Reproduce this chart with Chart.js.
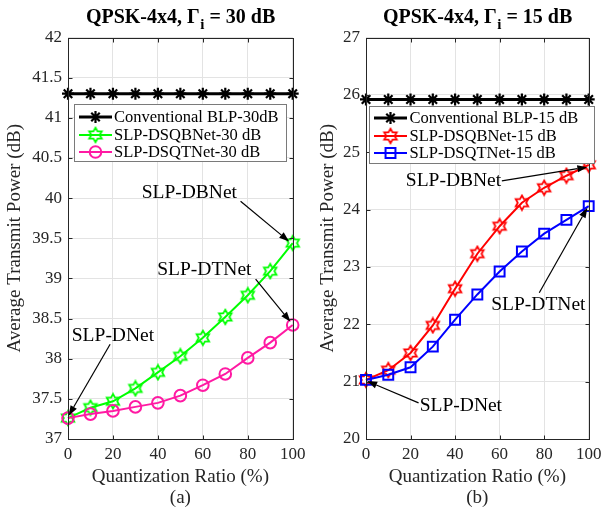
<!DOCTYPE html>
<html><head><meta charset="utf-8">
<script src="https://cdn.jsdelivr.net/npm/chart.js@4/dist/chart.umd.min.js"></script>
<style>
html,body{margin:0;padding:0;background:#fff;}
#wrap{position:relative;width:602px;height:509px;overflow:hidden;background:#fff;}
canvas{position:absolute;top:0;}
#c1{left:0;} #c2{left:313px;}
</style></head><body>
<div id="wrap"><canvas id="c1" width="312" height="509"></canvas><canvas id="c2" width="289" height="509"></canvas></div>
<script>
// ---------- data ----------
const ratio = [0, 10, 20, 30, 40, 50, 60, 70, 80, 90, 100];
const xTickVals = [0, 20, 40, 60, 80, 100];

// panel (a): Gamma_i = 30 dB
const blp30  = [41.3, 41.3, 41.3, 41.3, 41.3, 41.3, 41.3, 41.3, 41.3, 41.3, 41.3];
const dsqb30 = [37.26, 37.39, 37.47, 37.63, 37.83, 38.03, 38.26, 38.52, 38.79, 39.09, 39.44];
const dsqt30 = [37.26, 37.31, 37.35, 37.40, 37.45, 37.54, 37.67, 37.81, 38.01, 38.20, 38.42];
const yTicks30 = [37, 37.5, 38, 38.5, 39, 39.5, 40, 40.5, 41, 41.5, 42];

// panel (b): Gamma_i = 15 dB
const blp15  = [25.92, 25.92, 25.92, 25.92, 25.92, 25.92, 25.92, 25.92, 25.92, 25.92, 25.92];
const dsqb15 = [21.03, 21.20, 21.50, 21.98, 22.62, 23.23, 23.71, 24.12, 24.38, 24.59, 24.78];
const dsqt15 = [21.03, 21.12, 21.25, 21.61, 22.08, 22.52, 22.92, 23.27, 23.58, 23.82, 24.06];
const yTicks15 = [20, 21, 22, 23, 24, 25, 26, 27];

const FONT = '"Liberation Serif","Times New Roman",serif';
const AXC = '#262626';

function hexagram(color) {
  const s = 18, c = document.createElement('canvas');
  c.width = s; c.height = s;
  const g = c.getContext('2d'), R = 7.2, r = R / Math.sqrt(3);
  g.beginPath();
  for (let k = 0; k < 12; k++) {
    const a = -Math.PI / 2 + k * Math.PI / 6, rr = k % 2 === 0 ? R : r;
    const px = s / 2 + rr * Math.cos(a), py = s / 2 + rr * Math.sin(a);
    if (k) g.lineTo(px, py); else g.moveTo(px, py);
  }
  g.closePath(); g.strokeStyle = color; g.lineWidth = 1.8; g.stroke();
  return c;
}
const hexGreen = hexagram('#00ff00');
const hexRed = hexagram('#ff0000');

function marker(ctx, style, x, y, color, r, lw) {
  ctx.save();
  if (style instanceof HTMLCanvasElement) {
    ctx.drawImage(style, x - style.width / 2, y - style.height / 2);
    ctx.restore(); return;
  }
  ctx.strokeStyle = color; ctx.lineWidth = lw; ctx.beginPath();
  if (style === 'star') {
    for (let k = 0; k < 4; k++) {
      const a = k * Math.PI / 4, dx = r * Math.cos(a), dy = r * Math.sin(a);
      ctx.moveTo(x - dx, y - dy); ctx.lineTo(x + dx, y + dy);
    }
  } else if (style === 'circle') {
    ctx.arc(x, y, r, 0, Math.PI * 2);
  } else if (style === 'rect') {
    const s = r * Math.SQRT1_2; ctx.rect(x - s, y - s, 2 * s, 2 * s);
  }
  ctx.stroke(); ctx.restore();
}

const decor = {
  id: 'decor',
  afterDraw(chart, args, o) {
    const ctx = chart.ctx, a = chart.chartArea, xs = chart.scales.x, ys = chart.scales.y;
    ctx.save();
    // box + inward ticks
    ctx.strokeStyle = AXC; ctx.lineWidth = 1;
    const L = Math.round(a.left) + 0.5, R = Math.round(a.right) + 0.5, T = Math.round(a.top) + 0.5, B = Math.round(a.bottom) + 0.5;
    ctx.strokeRect(L, T, R - L, B - T);
    ctx.beginPath();
    o.xTicks.forEach(v => { const p = Math.round(xs.getPixelForValue(v)) + 0.5;
      ctx.moveTo(p, B); ctx.lineTo(p, B - 4); ctx.moveTo(p, T); ctx.lineTo(p, T + 4); });
    o.yTicks.forEach(v => { const p = Math.round(ys.getPixelForValue(v)) + 0.5;
      ctx.moveTo(L, p); ctx.lineTo(L + 4, p); ctx.moveTo(R, p); ctx.lineTo(R - 4, p); });
    ctx.stroke();

    // legend
    const lg = o.legend;
    ctx.fillStyle = '#fff'; ctx.fillRect(lg.x, lg.y, lg.w, lg.h);
    ctx.strokeStyle = '#7a7a7a'; ctx.lineWidth = 1;
    ctx.strokeRect(Math.round(lg.x) + 0.5, Math.round(lg.y) + 0.5, Math.round(lg.w), Math.round(lg.h));
    chart.data.datasets.forEach((ds, i) => {
      const y = lg.rows[i];
      ctx.strokeStyle = ds.borderColor; ctx.lineWidth = ds.borderWidth;
      ctx.beginPath(); ctx.moveTo(lg.l1, y); ctx.lineTo(lg.l2, y); ctx.stroke();
      marker(ctx, ds.pointStyle, (lg.l1 + lg.l2) / 2, y, ds.borderColor, ds.pointRadius, ds.pointBorderWidth);
      ctx.fillStyle = '#000'; ctx.font = '16.5px ' + FONT; ctx.textBaseline = 'middle'; ctx.textAlign = 'left';
      ctx.fillText(ds.label, lg.tx, y + 1);
    });

    // annotations
    ctx.strokeStyle = '#000'; ctx.fillStyle = '#000'; ctx.lineWidth = 1.2;
    o.notes.forEach(n => {
      const x0 = xs.getPixelForValue(n.from[0]), y0 = ys.getPixelForValue(n.from[1]);
      const x1 = xs.getPixelForValue(n.to[0]), y1 = ys.getPixelForValue(n.to[1]);
      const ang = Math.atan2(y1 - y0, x1 - x0), hl = 10, hw = 3.6;
      const bx = x1 - hl * Math.cos(ang), by = y1 - hl * Math.sin(ang);
      ctx.beginPath(); ctx.moveTo(x0, y0); ctx.lineTo(bx, by); ctx.stroke();
      ctx.beginPath(); ctx.moveTo(x1, y1);
      ctx.lineTo(bx + hw * Math.sin(ang), by - hw * Math.cos(ang));
      ctx.lineTo(bx - hw * Math.sin(ang), by + hw * Math.cos(ang));
      ctx.closePath(); ctx.fill();
      ctx.font = '19.5px ' + FONT; ctx.textAlign = 'center'; ctx.textBaseline = 'middle';
      ctx.fillText(n.text, xs.getPixelForValue(n.tx), ys.getPixelForValue(n.ty));
    });

    // title with subscript
    const cx = (a.left + a.right) / 2, mainF = 'bold 20px ' + FONT, subF = 'bold 15px ' + FONT;
    ctx.font = mainF; const w1 = ctx.measureText(o.title[0]).width, w3 = ctx.measureText(o.title[2]).width;
    ctx.font = subF; const w2 = ctx.measureText(o.title[1]).width;
    let sx = cx - (w1 + w2 + w3) / 2;
    ctx.fillStyle = '#000'; ctx.textAlign = 'left'; ctx.textBaseline = 'alphabetic';
    ctx.font = mainF; ctx.fillText(o.title[0], sx, 23);
    ctx.font = subF; ctx.fillText(o.title[1], sx + w1 + 0.5, 29);
    ctx.font = mainF; ctx.fillText(o.title[2], sx + w1 + w2 + 0.5, 23);

    // panel label
    ctx.font = '19px ' + FONT; ctx.textAlign = 'center'; ctx.textBaseline = 'middle'; ctx.fillStyle = AXC;
    ctx.fillText(o.panel, cx, 498);
    ctx.restore();
  }
};

function makePanel(id, p) {
  const mk = (arr) => ratio.map((x, i) => ({ x, y: arr[i] }));
  new Chart(document.getElementById(id), {
    type: 'line',
    data: { datasets: [
      { label: p.names[0], data: mk(p.s[0]), borderColor: '#000', borderWidth: 3, pointStyle: 'star',
        pointRadius: 6, pointBorderWidth: 2.2, pointBorderColor: '#000', order: 3 },
      { label: p.names[1], data: mk(p.s[1]), borderColor: p.c1, borderWidth: 2, pointStyle: p.m1,
        pointRadius: p.r1, pointBorderWidth: 2, pointBorderColor: p.c1, order: 2 },
      { label: p.names[2], data: mk(p.s[2]), borderColor: p.c2, borderWidth: 2, pointStyle: p.m2,
        pointRadius: p.r2, pointBorderWidth: 2, pointBorderColor: p.c2, order: 1 }
    ]},
    options: {
      responsive: false, animation: false, events: [],
      layout: { padding: { left: 0, right: p.padR, top: 37.5, bottom: 17 } },
      datasets: { line: { tension: 0, clip: false, pointBackgroundColor: 'rgba(0,0,0,0)', fill: false } },
      plugins: { legend: { display: false }, tooltip: { enabled: false }, title: { display: false },
        decor: { xTicks: xTickVals, yTicks: p.yTicks, legend: p.legend, notes: p.notes, title: p.title, panel: p.panel } },
      scales: {
        x: { type: 'linear', min: 0, max: 100,
          afterBuildTicks: s => { s.ticks = xTickVals.map(v => ({ value: v })); },
          afterFit: s => { s.height = 53; s.paddingLeft = 0; s.paddingRight = 0; },
          ticks: { font: { family: FONT, size: 17 }, color: AXC, padding: 5, maxRotation: 0, callback: v => String(v) },
          grid: { color: '#e3e3e3', drawTicks: false }, border: { display: false },
          title: { display: true, text: 'Quantization Ratio (%)', font: { family: FONT, size: 19 }, color: AXC } },
        y: { type: 'linear', min: p.yTicks[0], max: p.yTicks[p.yTicks.length - 1],
          afterBuildTicks: s => { s.ticks = p.yTicks.map(v => ({ value: v })); },
          afterFit: s => { s.width = p.yw; },
          ticks: { font: { family: FONT, size: 17 }, color: AXC, padding: 6, callback: v => String(v) },
          grid: { color: '#e3e3e3', drawTicks: false }, border: { display: false },
          title: { display: true, text: 'Average Transmit Power (dB)', font: { family: FONT, size: 19 }, color: AXC } }
      }
    },
    plugins: [decor]
  });
}

makePanel('c1', {
  s: [blp30, dsqb30, dsqt30], names: ['Conventional BLP-30dB', 'SLP-DSQBNet-30 dB', 'SLP-DSQTNet-30 dB'],
  c1: '#00ff00', m1: hexGreen, r1: 7, c2: '#ff1aa3', m2: 'circle', r2: 5.8,
  yTicks: yTicks30, yw: 68, padR: 19.3,
  legend: { x: 74, y: 104, w: 212, h: 57, rows: [117, 135, 152], l1: 79, l2: 112, tx: 114 },
  notes: [
    { text: 'SLP-DBNet', tx: 54, ty: 40.06, from: [76.8, 39.96], to: [98.4, 39.46] },
    { text: 'SLP-DTNet', tx: 60.7, ty: 39.1, from: [83.5, 38.99], to: [99.0, 38.46] },
    { text: 'SLP-DNet', tx: 20, ty: 38.28, from: [18.75, 38.18], to: [0.3, 37.29] }
  ],
  title: ['QPSK-4x4, \u0393', 'i', ' = 30 dB'], panel: '(a)'
});

makePanel('c2', {
  s: [blp15, dsqb15, dsqt15], names: ['Conventional BLP-15 dB', 'SLP-DSQBNet-15 dB', 'SLP-DSQTNet-15 dB'],
  c1: '#ff0000', m1: hexRed, r1: 7, c2: '#0000ff', m2: 'rect', r2: 7,
  yTicks: yTicks15, yw: 53, padR: 13.3,
  legend: { x: 56.3, y: 106, w: 225, h: 57, rows: [118, 136, 153], l1: 61, l2: 94, tx: 96.5 },
  notes: [
    { text: 'SLP-DBNet', tx: 39.3, ty: 24.5, from: [61, 24.5], to: [99.4, 24.74] },
    { text: 'SLP-DTNet', tx: 77.4, ty: 22.33, from: [77.8, 22.55], to: [99.4, 24.03] },
    { text: 'SLP-DNet', tx: 42.6, ty: 20.57, from: [23.6, 20.63], to: [0.5, 21.01] }
  ],
  title: ['QPSK-4x4, \u0393', 'i', ' = 15 dB'], panel: '(b)'
});
</script>
</body></html>
